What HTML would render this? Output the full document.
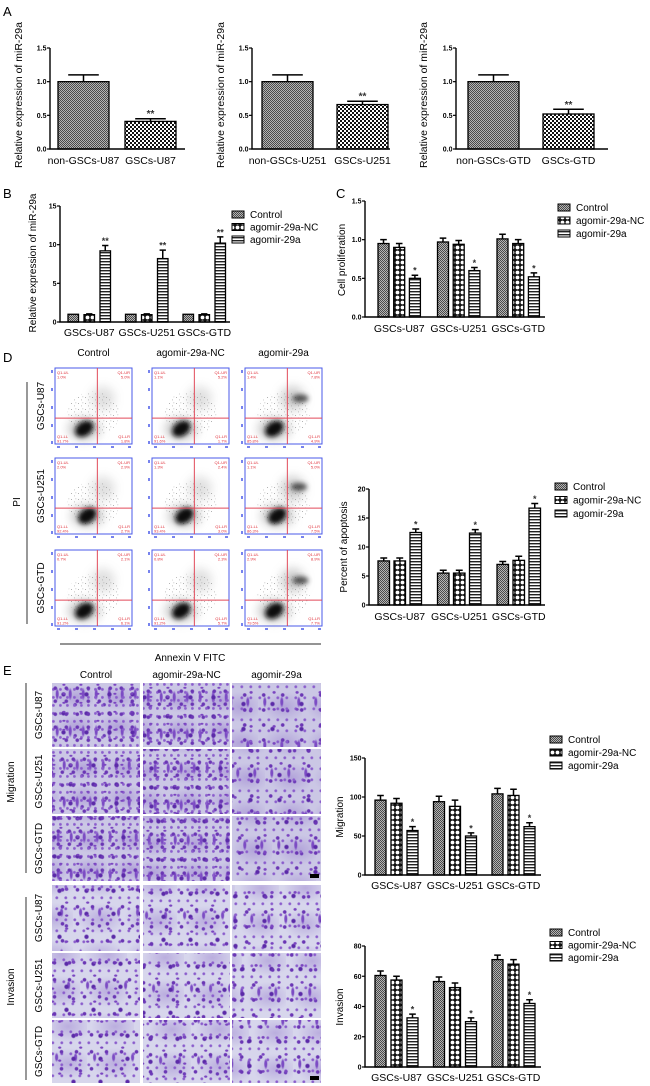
<!DOCTYPE html>
<html><head><meta charset="utf-8">
<style>
html,body{margin:0;padding:0;background:#fff;}
body{width:650px;height:1086px;position:relative;overflow:hidden;font-family:"Liberation Sans",Arial,sans-serif;}
svg{position:absolute;left:0;top:0;}
.img{position:absolute;background-color:#d3d2ea;
background-image:
radial-gradient(circle at 30% 40%,#6a36b4 0,#6a36b4 1.3px,transparent 2.3px),
radial-gradient(ellipse at 70% 20%,#7a45c0 0,#7a45c0 1.1px,transparent 2.1px),
radial-gradient(ellipse at 50% 60%,#5b2aa8 0,#5b2aa8 1.5px,transparent 2.7px),
radial-gradient(circle at 20% 80%,#8a5ccc 0,#8a5ccc 0.9px,transparent 1.9px),
radial-gradient(circle at 80% 70%,#6d3bb8 0,#6d3bb8 1.2px,transparent 2.2px),
radial-gradient(ellipse at 40% 30%,#7c4cc4 0,#7c4cc4 1px,transparent 2px),
radial-gradient(ellipse at 60% 50%,rgba(120,80,190,.3) 0,transparent 60%);
background-size:11px 13px,17px 9px,23px 19px,7px 8px,29px 31px,13px 37px,41px 29px;}
.mig{background-color:#cbc7e5;}
.inv{background-color:#d7d6ec;background-size:15px 17px,21px 13px,27px 23px,9px 11px,33px 37px,19px 41px,47px 37px;}
.light{background-size:19px 15px,23px 17px,29px 25px,9px 11px,37px 31px,17px 43px,44px 36px;}
.sb{position:absolute;width:9px;height:4px;background:#000;}
</style></head>
<body>
<svg id="fig" width="650" height="1086" viewBox="0 0 650 1086" xmlns="http://www.w3.org/2000/svg" font-family="Liberation Sans, Arial, sans-serif">
<defs>
<pattern id="pc" width="2" height="2" patternUnits="userSpaceOnUse"><rect width="2" height="2" fill="#b4b4b4"/><rect width="1" height="1" fill="#4a4a4a"/><rect x="1" y="1" width="1" height="1" fill="#4a4a4a"/></pattern>
<pattern id="pa" width="4" height="4" patternUnits="userSpaceOnUse"><rect width="4" height="4" fill="#fff"/><rect width="2" height="2" fill="#111"/><rect x="2" y="2" width="2" height="2" fill="#111"/></pattern>
<pattern id="pn" width="5" height="5" patternUnits="userSpaceOnUse"><rect width="5" height="5" fill="#111"/><circle cx="2.5" cy="2.5" r="1.9" fill="#fff"/></pattern>
<pattern id="ps" width="3" height="3" patternUnits="userSpaceOnUse"><rect width="3" height="3" fill="#fff"/><rect width="3" height="1.4" fill="#222"/></pattern>
<pattern id="sp" width="7" height="6" patternUnits="userSpaceOnUse"><rect x="1" y="1" width="0.8" height="0.8" fill="#555"/><rect x="4" y="3.5" width="0.8" height="0.8" fill="#777"/><rect x="5.5" y="0.5" width="0.7" height="0.7" fill="#666"/></pattern>
<filter id="bl" x="-50%" y="-50%" width="200%" height="200%"><feGaussianBlur stdDeviation="2.5"/></filter>
<filter id="bl2" x="-50%" y="-50%" width="200%" height="200%"><feGaussianBlur stdDeviation="5"/></filter>
</defs>
<g font-size="13" fill="#000">
<text x="3" y="16">A</text>
<text x="3" y="198">B</text>
<text x="336" y="198">C</text>
<text x="3" y="362">D</text>
<text x="3" y="675">E</text>
</g>
</svg>
<div id="imgs"></div>
<script>
// ===== Data =====
const aCats1=['non-GSCs-U87','GSCs-U87'], aVals1=[1.0,0.41], aErr1=[0.1,0.04];
const aCats2=['non-GSCs-U251','GSCs-U251'], aVals2=[1.0,0.66], aErr2=[0.1,0.05];
const aCats3=['non-GSCs-GTD','GSCs-GTD'], aVals3=[1.0,0.52], aErr3=[0.1,0.07];
const aTicks=[0,0.5,1.0,1.5], aTickLabels=['0.0','0.5','1.0','1.5'];
const groups=['GSCs-U87','GSCs-U251','GSCs-GTD'];
const seriesNames=['Control','agomir-29a-NC','agomir-29a'];
const bCtrl=[1.0,1.0,1.0], bNC=[0.95,0.95,0.95], bAgo=[9.2,8.2,10.2];
const bCtrlErr=[0,0,0], bNCErr=[0.1,0.1,0.1], bAgoErr=[0.7,1.1,0.8];
const bTicks=[0,5,10,15], bTickLabels=['0','5','10','15'];
const cCtrl=[0.95,0.97,1.01], cNC=[0.90,0.94,0.95], cAgo=[0.50,0.60,0.52];
const cCtrlErr=[0.05,0.05,0.06], cNCErr=[0.05,0.05,0.05], cAgoErr=[0.04,0.04,0.05];
const cTicks=[0,0.5,1.0,1.5], cTickLabels=['0.0','0.5','1.0','1.5'];
const dCtrl=[7.6,5.5,7.0], dNC=[7.6,5.5,7.7], dAgo=[12.5,12.4,16.7];
const dCtrlErr=[0.5,0.5,0.5], dNCErr=[0.5,0.5,0.7], dAgoErr=[0.6,0.6,0.8];
const dTicks=[0,5,10,15,20], dTickLabels=['0','5','10','15','20'];
const mCtrl=[96,94,104], mNC=[92,88,102], mAgo=[57,50,62];
const mCtrlErr=[6,7,7], mNCErr=[6,8,8], mAgoErr=[5,4,5];
const mTicks=[0,50,100,150], mTickLabels=['0','50','100','150'];
const iCtrl=[60.5,56.5,71], iNC=[57.5,52.5,68], iAgo=[32.5,30,42];
const iCtrlErr=[3,3,3], iNCErr=[2.5,3,3], iAgoErr=[2.5,2.5,2.5];
const iTicks=[0,20,40,60,80], iTickLabels=['0','20','40','60','80'];
const flowCols=['Control','agomir-29a-NC','agomir-29a'];
const flowRows=['GSCs-U87','GSCs-U251','GSCs-GTD'];
const flowQ=[[['1.0%','5.0%','91.7%','1.8%'],['1.1%','5.2%','91.6%','1.7%'],['1.4%','7.8%','85.8%','4.9%']],
[['2.0%','2.9%','92.4%','2.7%'],['1.3%','2.4%','93.4%','3.0%'],['1.1%','5.0%','86.3%','7.5%']],
[['0.7%','2.1%','91.2%','6.1%'],['0.8%','2.3%','91.2%','5.7%'],['2.9%','8.9%','79.5%','7.7%']]];

const NS='http://www.w3.org/2000/svg';
const svg=document.getElementById('fig');
function mk(tag,attrs,parent){const e=document.createElementNS(NS,tag);for(const k in attrs)e.setAttribute(k,attrs[k]);parent.appendChild(e);return e;}
function txt(s,attrs,parent){const t=mk('text',attrs,parent);t.textContent=s;return t;}

function chart(o){
  const g=mk('g',{},svg);
  
  
  const y=v=>o.y0-(v/o.max)*(o.y0-o.yTop);
  o.ticks.forEach((t,i)=>{
    const tl=mk('line',{x1:o.x0-3,x2:o.x0,y1:y(t),y2:y(t),stroke:'#000','stroke-width':1.2},g);
    
    
    const lb=txt(o.tickLabels[i],{x:o.x0-3.5,y:y(t)+2.5,'font-size':7,'font-weight':'bold','text-anchor':'end'},g);
    
    
  });
  o.series.forEach((vals,s)=>{
    vals.forEach((v,gi)=>{
      const x=o.start+gi*o.gp+s*o.bp;
      const r=mk('rect',{x:x,y:y(v),width:o.bw,height:o.y0-y(v),fill:'url(#'+o.pats[s]+')',stroke:'#000','stroke-width':1.3},g);
      
      
      const e=o.errs[s][gi];
      const cx=x+o.bw/2;
      if(e>0){
        const el=mk('path',{d:`M${cx},${y(v)}V${y(v+e)}M${cx-o.bw*0.3},${y(v+e)}H${cx+o.bw*0.3}`,stroke:'#000','stroke-width':1.5,fill:'none'},g);
        
        
      }
      if(o.stars&&o.stars[s]){
        const st=txt(o.stars[s],{x:cx,y:y(v+e)-1.5,'font-size':o.starSize||9,'font-weight':'bold','text-anchor':'middle',fill:'#333'},g);
        
        
      }
    });
  });
  const ax=mk('path',{d:`M${o.x0},${o.yTop}V${o.y0}H${o.xEnd}`,stroke:'#000','stroke-width':1.4,fill:'none'},g);
  
  
  o.catLabels.forEach((c,i)=>{
    const cl=txt(c,{x:o.labelX[i],y:o.ly,'font-size':10.5,'text-anchor':'middle'},g);
    
    
  });
  const yt=txt(o.yTitle,{x:0,y:0,'font-size':o.ytSize||10,'text-anchor':'middle',transform:`translate(${o.ytx},${o.yty}) rotate(-90)`},g);
  
  
  if(o.legend){
    seriesNames.forEach((n,i)=>{
      const ly=o.legend.y+i*o.legend.dy;
      const lr=mk('rect',{x:o.legend.x,y:ly-6,width:12,height:7,fill:'url(#'+o.pats[i]+')',stroke:'#000','stroke-width':1},g);
      
      
      const lt=txt(n,{x:o.legend.x+18,y:ly+1,'font-size':10},g);
      
      
    });
  }
}
function grpCenters(start,gp,bp,bw){return groups.map((_,i)=>start+i*gp+bp+bw/2);}

// Panel A
[[aVals1,aErr1,aCats1,50,58,185,22],[aVals2,aErr2,aCats2,252,262,390,224],[aVals3,aErr3,aCats3,456,468,608,427]].forEach((a,k)=>{
  const [vals,errs,cats,x0,st,xe,ytx]=a;
  chart({name:'chart-a'+(k+1),x0:x0,y0:149,yTop:48,max:1.5,ticks:aTicks,tickLabels:aTickLabels,
    series:[[vals[0]],[vals[1]]],errs:[[errs[0]],[errs[1]]],pats:['pc','pa'],barNames:cats,
    start:st,gp:0,bp:(k==0?67:75),bw:51,xEnd:xe,stars:['','**'],starSize:10,
    catLabels:cats,labelX:[st+25.5,st+(k==0?67:75)+25.5],ly:164,yTitle:'Relative expression of miR-29a',ytx:ytx,yty:95,ytSize:10.5});
});
// Panel B
chart({name:'chart-b-mir29a-expression',x0:60,y0:322,yTop:206,max:15,ticks:bTicks,tickLabels:bTickLabels,
  series:[bCtrl,bNC,bAgo],errs:[bCtrlErr,bNCErr,bAgoErr],pats:['pc','pn','ps'],stars:['','','**'],
  start:68,gp:57.5,bp:16,bw:10.5,xEnd:230,catLabels:groups,labelX:grpCenters(68,57.5,16,10.5),ly:336,
  yTitle:'Relative expression of miR-29a',ytx:36,yty:263,legend:{x:232,y:217,dy:12.5}});
// Panel C
chart({name:'chart-c-cell-proliferation',x0:365,y0:317,yTop:201,max:1.5,ticks:cTicks,tickLabels:cTickLabels,
  series:[cCtrl,cNC,cAgo],errs:[cCtrlErr,cNCErr,cAgoErr],pats:['pc','pn','ps'],stars:['','','*'],
  start:378,gp:59.5,bp:15.7,bw:11,xEnd:545,catLabels:groups,labelX:grpCenters(378,59.5,15.7,11),ly:332,
  yTitle:'Cell proliferation',ytx:345,yty:260,legend:{x:558,y:210,dy:13}});
// Panel D chart
chart({name:'chart-d-apoptosis',x0:369,y0:605,yTop:489,max:20,ticks:dTicks,tickLabels:dTickLabels,
  series:[dCtrl,dNC,dAgo],errs:[dCtrlErr,dNCErr,dAgoErr],pats:['pc','pn','ps'],stars:['','','*'],
  start:378,gp:59.5,bp:16,bw:11.5,xEnd:545,catLabels:groups,labelX:grpCenters(378,59.5,16,11.5),ly:620,
  yTitle:'Percent of apoptosis',ytx:347,yty:547,legend:{x:555,y:489,dy:13.5}});
// Panel E migration
chart({name:'chart-e-migration',x0:365,y0:875,yTop:758,max:150,ticks:mTicks,tickLabels:mTickLabels,
  series:[mCtrl,mNC,mAgo],errs:[mCtrlErr,mNCErr,mAgoErr],pats:['pc','pn','ps'],stars:['','','*'],
  start:375,gp:58.5,bp:16,bw:11,xEnd:541,catLabels:groups,labelX:grpCenters(375,58.5,16,11),ly:889,
  yTitle:'Migration',ytx:343,yty:817,legend:{x:550,y:742,dy:13}});
// Panel E invasion
chart({name:'chart-e-invasion',x0:365,y0:1067,yTop:946,max:80,ticks:iTicks,tickLabels:iTickLabels,
  series:[iCtrl,iNC,iAgo],errs:[iCtrlErr,iNCErr,iAgoErr],pats:['pc','pn','ps'],stars:['','','*'],
  start:375,gp:58.5,bp:16,bw:11,xEnd:541,catLabels:groups,labelX:grpCenters(375,58.5,16,11),ly:1081,
  yTitle:'Invasion',ytx:343,yty:1007,legend:{x:550,y:935,dy:12.5}});

// Panel D flow plots
const fx=[55,152,245], fy=[368,458,550], fw=77, fh=76;
const fg=mk('g',{},svg);


flowCols.forEach((c,i)=>{
  const h=txt(c,{x:fx[i]+fw/2,y:356,'font-size':10,'text-anchor':'middle'},fg);
  
  
});
flowRows.forEach((r,ri)=>{
  const rl=txt(r,{x:0,y:0,'font-size':10,'text-anchor':'middle',transform:`translate(${44},${fy[ri]+fh/2}) rotate(-90)`},fg);
  
  
  flowCols.forEach((c,ci)=>{
    const x=fx[ci], y=fy[ri];
    const g=mk('g',{},fg);
    
    
    mk('rect',{x:x,y:y,width:fw,height:fh,fill:'#fff',stroke:'#4a5ae8','stroke-width':1},g);
    const lx=x+fw*(ri==1?0.42:0.38), ly=y+fh*(ri==1?0.76:0.80);
    mk('ellipse',{cx:x+fw*0.5,cy:y+fh*0.6,rx:26,ry:22,fill:'url(#sp)',opacity:0.7},g);
    mk('ellipse',{cx:lx,cy:ly,rx:16,ry:11,fill:'#888',opacity:0.5,filter:'url(#bl2)'},g);
    mk('ellipse',{cx:lx,cy:ly,rx:10,ry:7,fill:'#111',filter:'url(#bl)',transform:`rotate(-35 ${lx} ${ly})`},g);
    mk('ellipse',{cx:x+fw*0.62,cy:y+fh*0.4,rx:12,ry:12,fill:'#999',opacity:ci==2?0.5:0.3,filter:'url(#bl2)'},g);
    if(ci==2){mk('ellipse',{cx:x+fw*(ri==1?0.7:0.72),cy:y+fh*(ri==1?0.38:0.4),rx:8,ry:4,fill:'#333',opacity:0.8,filter:'url(#bl)'},g);}
    mk('path',{d:`M${x+fw*0.55},${y}V${y+fh}M${x},${y+fh*0.66}H${x+fw}`,stroke:'#e24a5a','stroke-width':1,fill:'none'},g);
    const q=flowQ[ri][ci];
    [[x+2,y+6,'start','UL',q[0]],[x+fw-2,y+6,'end','UR',q[1]],[x+2,y+fh-6,'start','LL',q[2]],[x+fw-2,y+fh-6,'end','LR',q[3]]].forEach(p=>{
      const t1=txt('Q1-'+p[3],{x:p[0],y:p[1],'font-size':4,'text-anchor':p[2],fill:'#e0303a'},g);
      
      
      const t2=txt(p[4],{x:p[0],y:p[1]+4.5,'font-size':4,'text-anchor':p[2],fill:'#e0303a'},g);
      
      
    });
    mk('path',{d:`M${x-3},${y+2}v3M${x-3},${y+20}v3M${x-3},${y+38}v3M${x-3},${y+56}v3M${x-3},${y+fh-3}v3M${x+2},${y+fh+3}h3M${x+20},${y+fh+3}h3M${x+38},${y+fh+3}h3M${x+56},${y+fh+3}h3M${x+fw-4},${y+fh+3}h3`,stroke:'#4a5ae8','stroke-width':1.5},g);
  });
});
const dl=mk('path',{d:'M27,382V624M60,644H321',stroke:'#555','stroke-width':1.2,fill:'none'},fg);


const pi=txt('PI',{x:0,y:0,'font-size':10,'text-anchor':'middle',transform:'translate(20,502) rotate(-90)'},fg);


const ann=txt('Annexin V FITC',{x:190,y:661,'font-size':10,'text-anchor':'middle'},fg);



// Panel E micrographs
const ex=[52,143,232], ew=[88,87,89];
const ey=[683,749,816,885,953,1020], eh=[64,65,65,66,65,63];
const eg=mk('g',{},svg);


flowCols.forEach((c,i)=>{
  const h=txt(c,{x:ex[i]+ew[i]/2,y:678,'font-size':10,'text-anchor':'middle'},eg);
  
  
});
const imgs=document.getElementById('imgs');
ey.forEach((yy,ri)=>{
  const rl=txt(flowRows[ri%3],{x:0,y:0,'font-size':10,'text-anchor':'middle',transform:`translate(42,${yy+eh[ri]/2}) rotate(-90)`},eg);
  
  
  ex.forEach((xx,ci)=>{
    const d=document.createElement('div');
    d.className='img '+(ri<3?'mig':'inv')+(ci==2?' light':'');
    d.style.left=xx+'px';d.style.top=yy+'px';d.style.width=ew[ci]+'px';d.style.height=eh[ri]+'px';
    d.style.backgroundPosition=(ri*7+ci*13)+'px '+(ri*5+ci*3)+'px';
    
    
    imgs.appendChild(d);
  });
});
[[310,874],[310,1076]].forEach(p=>{
  const s=document.createElement('div');s.className='sb';s.style.left=p[0]+'px';s.style.top=p[1]+'px';
  
  
  imgs.appendChild(s);
});
const el2=mk('path',{d:'M26,683V873M26,897V1080',stroke:'#555','stroke-width':1.2,fill:'none'},eg);


const mg=txt('Migration',{x:0,y:0,'font-size':10,'text-anchor':'middle',transform:'translate(14,782) rotate(-90)'},eg);


const iv=txt('Invasion',{x:0,y:0,'font-size':10,'text-anchor':'middle',transform:'translate(14,987) rotate(-90)'},eg);


</script>
</body></html>
